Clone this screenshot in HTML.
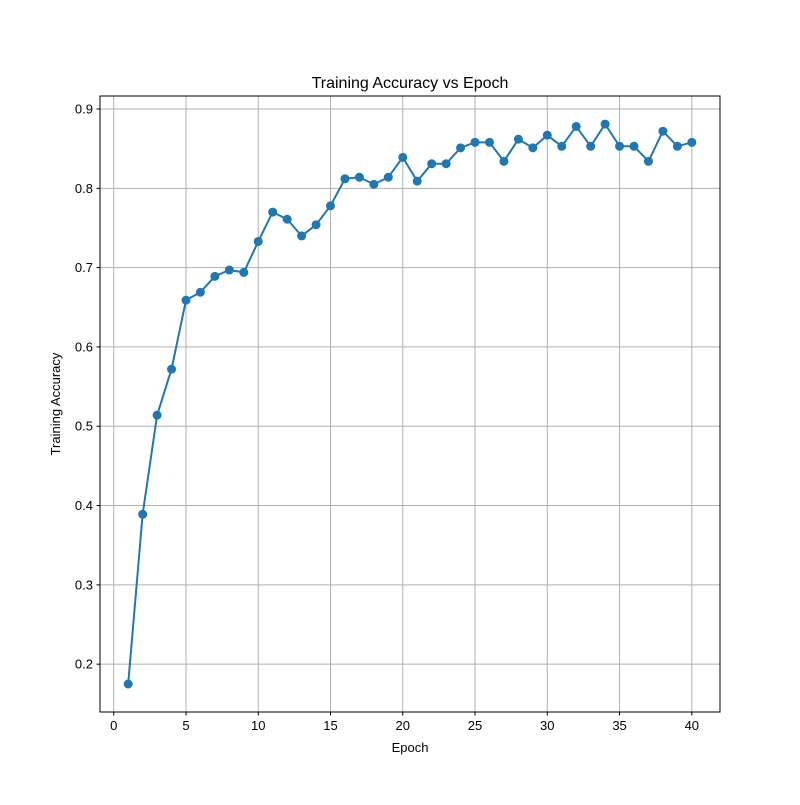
<!DOCTYPE html>
<html><head><meta charset="utf-8"><style>
body{margin:0;background:#fff}
svg text{font-family:"Liberation Sans","DejaVu Sans",sans-serif;fill:#000}
</style></head><body>
<svg id="chart" width="800" height="800" xmlns="http://www.w3.org/2000/svg">
<rect width="800" height="800" fill="#fff"/>
<g id="grid"></g>
<g id="axes"></g>
<g id="series"></g>
<rect x="100" y="96" width="620" height="616" fill="none" stroke="#000" stroke-width="1"/>
<text x="410" y="88" font-size="16" text-anchor="middle">Training Accuracy vs Epoch</text>
<text x="410" y="752" font-size="13" text-anchor="middle">Epoch</text>
<text transform="translate(60,404) rotate(-90)" font-size="13" text-anchor="middle">Training Accuracy</text>
</svg>
<script>
const epochs = [1,2,3,4,5,6,7,8,9,10,11,12,13,14,15,16,17,18,19,20,21,22,23,24,25,26,27,28,29,30,31,32,33,34,35,36,37,38,39,40];
const accuracy = [0.175,0.389,0.514,0.572,0.659,0.669,0.689,0.697,0.694,0.733,0.770,0.761,0.740,0.754,0.778,0.812,0.814,0.805,0.814,0.839,0.809,0.831,0.831,0.851,0.858,0.858,0.834,0.862,0.851,0.867,0.853,0.878,0.853,0.881,0.853,0.853,0.834,0.872,0.853,0.858];
const xTicks = [0,5,10,15,20,25,30,35,40];
const yTicks = [0.2,0.3,0.4,0.5,0.6,0.7,0.8,0.9];
const yTickLabels = ["0.2","0.3","0.4","0.5","0.6","0.7","0.8","0.9"];

const NS = "http://www.w3.org/2000/svg";
const L=100,R=720,T=96,B=712;
const xMin=-0.95,xMax=41.95,yMin=0.1397,yMax=0.9164;
function xs(v){return L+(v-xMin)/(xMax-xMin)*(R-L);}
function ys(v){return B-(v-yMin)/(yMax-yMin)*(B-T);}
function mk(tag,attrs,parent){const e=document.createElementNS(NS,tag);for(const k in attrs)e.setAttribute(k,attrs[k]);parent.appendChild(e);return e;}
const grid=document.getElementById('grid'),axes=document.getElementById('axes'),series=document.getElementById('series');

xTicks.forEach(t=>{
  const x=xs(t);
  const g=mk('line',{x1:x,x2:x,y1:T,y2:B,stroke:'#b0b0b0','stroke-width':1},grid);
  
  
  const tk=mk('line',{x1:x,x2:x,y1:B,y2:B+3.5,stroke:'#000','stroke-width':1},axes);
  
  
  const tx=mk('text',{x:x,y:B+18,'font-size':13,'text-anchor':'middle'},axes);
  tx.textContent=t;
  
  
});
yTicks.forEach((t,i)=>{
  const y=ys(t);
  const g=mk('line',{x1:L,x2:R,y1:y,y2:y,stroke:'#b0b0b0','stroke-width':1},grid);
  
  
  const tk=mk('line',{x1:L-3.5,x2:L,y1:y,y2:y,stroke:'#000','stroke-width':1},axes);
  
  
  const tx=mk('text',{x:L-7,y:y+4.5,'font-size':13,'text-anchor':'end'},axes);
  tx.textContent=yTickLabels[i];
  
  
});
const pts=epochs.map((e,i)=>xs(e)+','+ys(accuracy[i])).join(' ');
const pl=mk('polyline',{points:pts,fill:'none',stroke:'#1f77b4','stroke-width':2,'stroke-linejoin':'round'},series);


epochs.forEach((e,i)=>{
  const c=mk('circle',{cx:xs(e),cy:ys(accuracy[i]),r:4.5,fill:'#1f77b4'},series);
  
  
});
</script>
</body></html>
